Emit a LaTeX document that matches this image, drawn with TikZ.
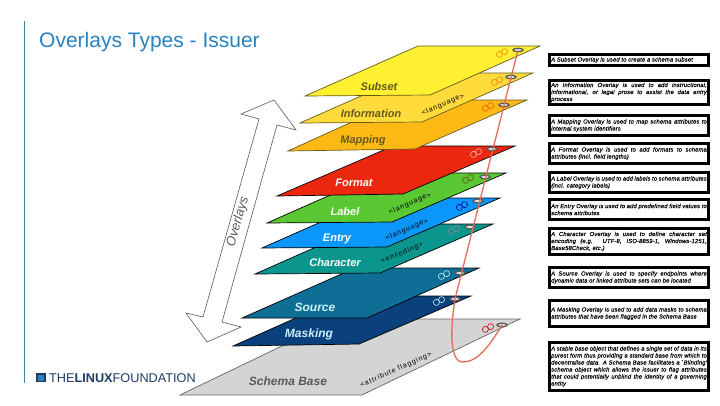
\documentclass[tikz,border=0pt]{standalone}
\usepackage{fontspec}
\usepackage{xcolor}
\usetikzlibrary{shapes.geometric}
\setmainfont{Liberation Sans}
\newfontfamily\boxfont[LetterSpace=3,UprightFont=* Italic,FakeBold=0.2]{Liberation Sans}
\newfontfamily\tagfont[LetterSpace=14]{Liberation Sans}
\definecolor{titleblue}{RGB}{40,130,190}
\definecolor{ruleblue}{RGB}{60,130,170}
\definecolor{logoblue}{RGB}{30,60,100}
\definecolor{olive}{RGB}{100,90,30}
\definecolor{threadred}{RGB}{225,110,90}
\definecolor{paleblue}{RGB}{205,240,250}
\tikzset{
  layer/.style={draw=black,line width=0.7pt,line join=miter},
  layername/.style={font=\fontsize{11}{13}\selectfont\bfseries\itshape},
  lowername/.style={font=\fontsize{12}{14}\selectfont\bfseries\itshape},
  tagname/.style={font=\fontsize{7}{8}\selectfont\tagfont,black,rotate=24,inner sep=0pt},
  infobox/.style={draw=black,line width=3.2pt,fill=white,text width=155.6pt,inner xsep=1.6pt,inner ysep=0.5pt,
    align=justify,font=\fontsize{5.8}{7}\selectfont\boxfont,text=black,
    execute at begin node={\hyphenpenalty=10000\relax}},
  ringnode/.style={ellipse,draw=black!65,fill=white,line width=1.4pt,inner sep=0pt,
    minimum width=10pt,minimum height=3.4pt},
  thread/.style={draw=threadred,line width=1.3pt,line cap=round},
  chainlink/.pic={\draw[line width=0.6pt] (-2.6,1.4) circle (3) (2.6,-1.4) circle (3);}
}
\begin{document}
\begin{tikzpicture}[x=1pt,y=-1pt]
  \useasboundingbox (0,0) rectangle (720,405);
  % title and rule
  \draw[ruleblue,line width=0.9pt] (24.5,21) -- (24.5,383);
  \node[anchor=base west,inner sep=0pt,titleblue,font=\fontsize{21}{24}\selectfont] (title) at (39,47) {Overlays Types - Issuer};
  % logo
  \draw[logoblue,line width=1.6pt,fill=titleblue] (37,374) rectangle (45,381.5);
  \node[anchor=base west,inner sep=0pt,logoblue,font=\fontsize{12.7}{14}\selectfont] (logo) at (49,382)
    {THE\textbf{LINUX}FOUNDATION};
  % block arrow
  \draw[black!65,line width=0.6pt,fill=white] (274,100) -- (296,130) -- (277,125) -- (222,322) -- (241,327)
    -- (207,342) -- (186,313) -- (203,317) -- (259,119) -- (241,114) -- cycle;
  \node[rotate=74,black!65,font=\fontsize{13}{15}\selectfont\itshape,inner sep=0pt] (overlays) at (238,222) {Overlays};
  % layers, lowest first
  \draw[layer,draw=black!60,fill=black!17] (180,395) -- (362,395) -- (520,319) -- (338,319) -- cycle;
  \draw[layer,fill={rgb,255:red,10;green,65;blue,125}] (233,346) -- (359,344) -- (471,296) -- (345,296) -- cycle;
  \draw[layer,fill={rgb,255:red,15;green,110;blue,150}] (242,318) -- (367,318) -- (479,268) -- (355,268) -- cycle;
  \draw[layer,fill={rgb,255:red,10;green,150;blue,140}] (255,274) -- (380,273) -- (493,224) -- (368,224) -- cycle;
  \draw[layer,fill={rgb,255:red,10;green,150;blue,250}] (262,248) -- (387,247) -- (500,198) -- (375,198) -- cycle;
  \draw[layer,fill={rgb,255:red,90;green,200;blue,50}] (267,223) -- (392,222) -- (506,173) -- (380,173) -- cycle;
  \draw[layer,fill={rgb,255:red,235;green,40;blue,15}] (277,196) -- (403,194) -- (515,146) -- (393,146) -- cycle;
  \draw[layer,draw=olive,fill={rgb,255:red,255;green,185;blue,20}] (288,151) -- (415,149) -- (527,100) -- (400,100) -- cycle;
  \draw[layer,draw=olive,fill={rgb,255:red,255;green,220;blue,60}] (300,123) -- (422,122) -- (533,73) -- (413,73) -- cycle;
  \draw[layer,draw=olive,fill={rgb,255:red,255;green,240;blue,50}] (305,96) -- (430,95) -- (540,46) -- (418,46) -- cycle;
  % layer names
  \node[layername,olive] (subset) at (379,87) {Subset};
  \node[layername,olive] (information) at (371,114) {Information};
  \node[layername,olive] (mapping) at (363,141) {Mapping};
  \node[layername,white] (format) at (354,183) {Format};
  \node[layername,white] (label) at (345,212) {Label};
  \node[layername,white] (entry) at (337,239) {Entry};
  \node[layername,white] (character) at (335,263) {Character};
  \node[lowername,paleblue] (source) at (315,307) {Source};
  \node[lowername,paleblue] (masking) at (309,334) {Masking};
  \node[lowername,black!65] (schemabase) at (288,381) {Schema Base};
  % tags
  \node[tagname] (taginformation) at (443,105) {<language>};
  \node[tagname] (taglabel) at (410,204) {<language>};
  \node[tagname] (tagentry) at (407,230) {<language>};
  \node[tagname] (tagcharacter) at (402,253) {<encoding>};
  \node[tagname] (tagbase) at (396,370) {<attribute flagging>};
  % link icons
  \pic[orange] at (502,53) {chainlink};
  \pic[orange] at (497,81) {chainlink};
  \pic[orange!70!red] at (488,107) {chainlink};
  \pic[red!30!white] at (476,153) {chainlink};
  \pic[olive] at (468,179) {chainlink};
  \pic[black!50!blue] at (462,206) {chainlink};
  \pic[black!45] at (454,230) {chainlink};
  \pic[paleblue] at (444,275) {chainlink};
  \pic[paleblue] at (439,301) {chainlink};
  \pic[red!80!black] at (488,328) {chainlink};
  % rings
  \node[ringnode] (ringsubset) at (518,50) {};
  \node[ringnode] (ringinformation) at (511,77) {};
  \node[ringnode] (ringmapping) at (504,105) {};
  \node[ringnode] (ringformat) at (492,149) {};
  \node[ringnode] (ringlabel) at (485,177) {};
  \node[ringnode] (ringentry) at (478,201) {};
  \node[ringnode] (ringcharacter) at (470,227) {};
  \node[ringnode] (ringsource) at (460,273) {};
  \node[ringnode] (ringmasking) at (455,299) {};
  \node[ringnode] (ringbase) at (502,325) {};
  % thread through the rings
  \coordinate (threadlow) at (463,362);
  \draw[thread] (ringsubset.center) -- (ringmasking.center)
    .. controls (452,318) and (447,362) .. (threadlow)
    .. controls (478,362) and (490,345) .. (ringbase.center);
  % descriptions
  \node[infobox,minimum height=10.8pt] (boxsubset) at (629,60) {A Subset Overlay is used to create a schema subset};
  \node[infobox,minimum height=23.8pt] (boxinformation) at (629,92.5) {An Information Overlay is used to add instructional, informational, or legal prose to assist the data entry process};
  \node[infobox,minimum height=19.8pt] (boxmapping) at (629,125.5) {A Mapping Overlay is used to map schema attributes to internal system identifiers};
  \node[infobox,minimum height=19.8pt] (boxformat) at (629,153.5) {A Format Overlay is used to add formats to schema attributes (incl. field lengths)};
  \node[infobox,minimum height=19.8pt] (boxlabel) at (629,182.5) {A Label Overlay is used to add labels to schema attributes (incl. category labels)};
  \node[infobox,minimum height=19.8pt] (boxentry) at (629,209.5) {An Entry Overlay is used to add predefined field values to schema attributes};
  \node[infobox,minimum height=25.8pt] (boxcharacter) at (629,241.5) {A Character Overlay is used to define character set encoding (e.g. UTF-8, ISO-8859-1, Windows-1251, Base58Check, etc.)};
  \node[infobox,minimum height=19.8pt] (boxsource) at (629,277.5) {A Source Overlay is used to specify endpoints where dynamic data or linked attribute sets can be located};
  \node[infobox,minimum height=25.8pt] (boxmasking) at (629,313.5) {A Masking Overlay is used to add data masks to schema attributes that have been flagged in the Schema Base};
  \node[infobox,minimum height=47.8pt] (boxbase) at (629,366.5) {A stable base object that defines a single set of data in its purest form thus providing a standard base from which to decentralise data. A Schema Base facilitates a `Blinding' schema object which allows the issuer to flag attributes that could potentially unblind the identity of a governing entity};
\end{tikzpicture}
\end{document}
